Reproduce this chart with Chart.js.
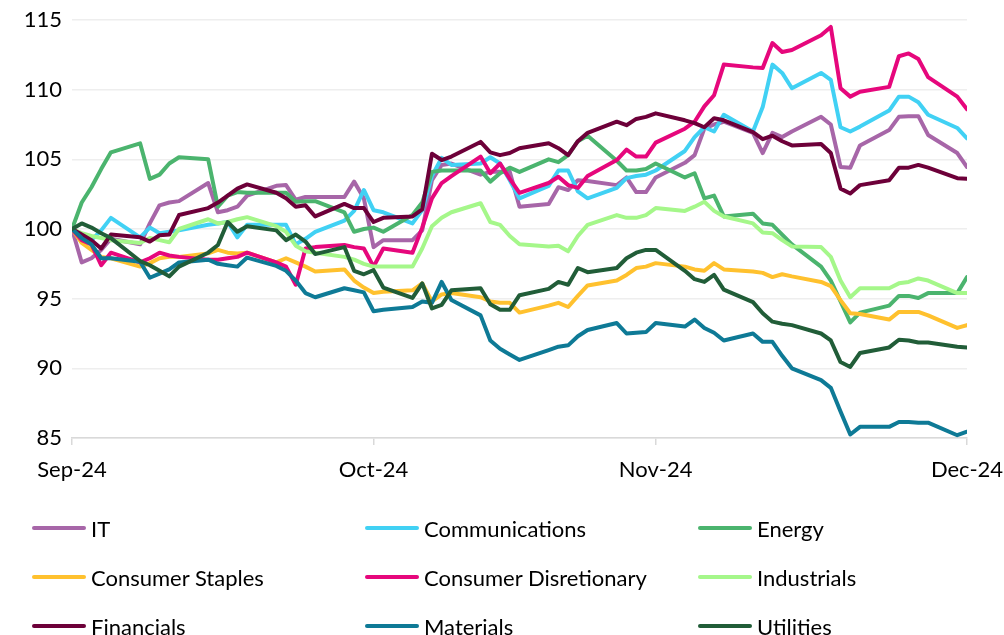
<!DOCTYPE html>
<html>
<head>
<meta charset="utf-8">
<title>Sector performance</title>
<script src="https://cdn.jsdelivr.net/npm/chart.js@4.4.1/dist/chart.umd.min.js"></script>
<style>
  body { margin: 0; background: #fff; }
  #wrap { position: relative; width: 1004px; height: 635px; font-family: Lato, sans-serif; }
  #legend { position: absolute; left: 0; top: 0; width: 1004px; height: 635px; pointer-events: none; }
  .item { position: absolute; height: 30px; display: flex; align-items: center; font-size: 22px; color: #000; white-space: nowrap; }
  .swatch { width: 54px; height: 4px; border-radius: 2px; margin-right: 5px; }
</style>
</head>
<body>
<div id="wrap">
  <canvas id="chart" width="1004" height="635"></canvas>
  <div id="legend"></div>
</div>
<script>
// DATA //

const dates = [
  '2024-09-02', '2024-09-03', '2024-09-04', '2024-09-05', '2024-09-06',
  '2024-09-09', '2024-09-10', '2024-09-11', '2024-09-12', '2024-09-13',
  '2024-09-16', '2024-09-17', '2024-09-18', '2024-09-19', '2024-09-20',
  '2024-09-23', '2024-09-24', '2024-09-25', '2024-09-26', '2024-09-27',
  '2024-09-30', '2024-10-01', '2024-10-02', '2024-10-03', '2024-10-04',
  '2024-10-07', '2024-10-08', '2024-10-09', '2024-10-10', '2024-10-11',
  '2024-10-14', '2024-10-15', '2024-10-16', '2024-10-17', '2024-10-18',
  '2024-10-21', '2024-10-22', '2024-10-23', '2024-10-24', '2024-10-25',
  '2024-10-28', '2024-10-29', '2024-10-30', '2024-10-31', '2024-11-01',
  '2024-11-04', '2024-11-05', '2024-11-06', '2024-11-07', '2024-11-08',
  '2024-11-11', '2024-11-12', '2024-11-13', '2024-11-14', '2024-11-15',
  '2024-11-18', '2024-11-19', '2024-11-20', '2024-11-21', '2024-11-22',
  '2024-11-25', '2024-11-26', '2024-11-27', '2024-11-28', '2024-11-29',
  '2024-12-02', '2024-12-03'
];

const it = [
  100, 97.6, 97.9, 98.5, 99.3,  98.9, 100.4, 101.7, 101.9, 102.0,
  103.3, 101.2, 101.35, 101.6, 102.4,  103.1, 103.15, 102.1, 102.3, 102.3,
  102.3, 103.4, 102.2, 98.7, 99.2,  99.2, 99.9, 103.5, 104.6, 104.7,
  103.9, 104.1, 104.1, 104.1, 101.6,  101.8, 103.0, 102.8, 103.5, 103.45,
  103.15, 103.7, 102.65, 102.65, 103.7,  104.75, 105.3, 107.2, 107.5, 107.7,
  106.9, 105.45, 106.9, 106.6, 107.0,  108.05, 107.5, 104.45, 104.4, 106.0,
  107.1, 108.05, 108.1, 108.1, 106.75,  105.45, 104.45
];

const communications = [
  100, 99.3, 99.2, 99.9, 100.8,  99.4, 100.1, 99.7, 99.8, 99.9,
  100.3, 100.4, 100.5, 99.4, 100.3,  100.3, 100.3, 98.9, 99.3, 99.8,
  100.6, 101.3, 102.8, 101.35, 101.2,  100.4, 101.35, 103.8, 105.1, 104.6,
  104.7, 105.15, 104.7, 103.5, 102.2,  103.1, 104.2, 104.2, 102.7, 102.2,
  102.95, 103.65, 103.8, 103.9, 104.2,  105.6, 106.6, 107.3, 107.0, 108.2,
  107.0, 108.75, 111.8, 111.2, 110.1,  111.2, 110.7, 107.3, 107.0, 107.35,
  108.5, 109.5, 109.5, 109.1, 108.2,  107.25, 106.5
];

const energy = [
  100, 101.9, 103.0, 104.3, 105.5,  106.15, 103.6, 103.9, 104.7, 105.15,
  105.0, 101.6, 102.4, 102.65, 102.6,  102.6, 102.6, 101.95, 102.0, 102.0,
  101.2, 99.8, 100.0, 100.1, 99.8,  101.0, 101.9, 104.1, 104.2, 104.2,
  104.2, 103.4, 104.0, 104.4, 104.1,  105.0, 104.8, 105.3, 106.3, 106.7,
  104.9, 104.2, 104.2, 104.3, 104.7,  103.7, 104.0, 102.2, 102.4, 100.9,
  101.1, 100.4, 100.3, 99.6, 98.9,  97.3, 96.3, 94.8, 93.3, 94.0,
  94.5, 95.2, 95.2, 95.05, 95.4,  95.4, 96.55
];

const consumerStaples = [
  100, 99.0, 98.5, 98.0, 97.9,  97.3, 97.55, 97.9, 98.0, 98.0,
  98.25, 98.5, 98.3, 98.25, 98.3,  97.6, 97.9, 97.6, 97.3, 96.95,
  97.1, 96.3, 95.8, 95.4, 95.5,  95.6, 96.1, 94.8, 95.3, 95.4,
  95.1, 94.8, 94.7, 94.7, 94.0,  94.5, 94.7, 94.4, 95.2, 95.95,
  96.3, 96.7, 97.2, 97.3, 97.55,  97.3, 97.1, 97.0, 97.55, 97.1,
  96.95, 96.85, 96.55, 96.75, 96.6,  96.2, 95.9, 94.9, 93.95, 93.9,
  93.5, 94.05, 94.05, 94.05, 93.8,  92.9, 93.1
];

const consumerDiscretionary = [
  100, 99.2, 98.9, 97.4, 98.3,  97.6, 97.9, 98.3, 98.1, 98.0,
  97.8, 97.8, 97.9, 98.0, 98.3,  97.6, 97.3, 96.0, 98.6, 98.7,
  98.85, 98.7, 98.6, 97.3, 98.6,  98.3, 100.1, 102.2, 103.3, 103.8,
  105.2, 104.0, 104.7, 103.6, 102.6,  103.3, 103.75, 103.15, 102.95, 103.8,
  104.95, 105.7, 105.2, 105.2, 106.2,  107.2, 107.7, 108.8, 109.6, 111.8,
  111.6, 111.55, 113.35, 112.7, 112.85,  113.9, 114.5, 110.1, 109.5, 109.85,
  110.2, 112.4, 112.6, 112.2, 110.9,  109.5, 108.6
];

const industrials = [
  100, 99.7, 99.5, 99.35, 99.2,  99.0, 99.35, 99.2, 99.05, 100.0,
  100.7, 100.4, 100.5, 100.7, 100.85,  100.2, 99.8, 98.8, 98.4, 98.3,
  98.0, 97.8, 97.5, 97.3, 97.3,  97.3, 98.6, 100.2, 100.8, 101.2,
  101.85, 100.5, 100.3, 99.5, 98.9,  98.75, 98.8, 98.4, 99.5, 100.3,
  101.0, 100.8, 100.8, 101.0, 101.5,  101.3, 101.6, 101.95, 101.3, 100.9,
  100.4, 99.75, 99.7, 99.2, 98.75,  98.7, 98.0, 96.3, 95.1, 95.75,
  95.75, 96.1, 96.2, 96.45, 96.3,  95.4, 95.4
];

const financials = [
  100, 99.6, 99.2, 98.6, 99.6,  99.4, 99.1, 99.55, 99.6, 101.0,
  101.5, 101.9, 102.4, 102.9, 103.2,  102.6, 102.2, 101.6, 101.7, 100.9,
  101.8, 101.5, 101.5, 100.5, 100.8,  100.9, 101.4, 105.4, 104.95, 105.2,
  106.25, 105.5, 105.3, 105.45, 105.8,  106.15, 105.8, 105.3, 106.3, 106.9,
  107.7, 107.45, 107.9, 108.05, 108.3,  107.8, 107.6, 107.3, 107.95, 107.8,
  106.95, 106.45, 106.7, 106.3, 106.0,  106.1, 105.45, 102.9, 102.55, 103.15,
  103.5, 104.4, 104.4, 104.6, 104.4,  103.65, 103.6
];

const materials = [
  100, 99.35, 98.9, 97.9, 97.9,  97.65, 96.5, 96.8, 97.1, 97.6,
  97.8, 97.5, 97.4, 97.3, 97.95,  97.35, 97.0, 96.3, 95.4, 95.1,
  95.75, 95.6, 95.45, 94.1, 94.2,  94.4, 94.8, 94.7, 96.2, 94.9,
  93.8, 92.0, 91.4, 91.0, 90.6,  91.3, 91.55, 91.65, 92.3, 92.75,
  93.25, 92.5, 92.55, 92.6, 93.25,  93.0, 93.5, 92.9, 92.55, 92.0,
  92.5, 91.9, 91.9, 90.9, 90.0,  89.15, 88.6, 86.9, 85.25, 85.8,
  85.8, 86.15, 86.15, 86.1, 86.1,  85.2, 85.45
];

const utilities = [
  100, 100.4, 100.1, 99.7, 99.35,  97.7, 97.4, 97.0, 96.6, 97.3,
  98.3, 98.85, 100.5, 99.8, 100.2,  99.9, 99.2, 99.6, 99.1, 98.2,
  98.7, 97.0, 96.75, 97.05, 95.8,  95.05, 96.1, 94.3, 94.55, 95.6,
  95.75, 94.6, 94.2, 94.2, 95.25,  95.7, 96.2, 96.0, 97.2, 96.9,
  97.2, 97.9, 98.3, 98.5, 98.5,  97.0, 96.4, 96.2, 96.7, 95.65,
  94.75, 93.95, 93.35, 93.2, 93.1,  92.5, 92.0, 90.45, 90.1, 91.1,
  91.5, 92.05, 92.0, 91.85, 91.85,  91.55, 91.5
];

const seriesNames = ['IT', 'Communications', 'Energy', 'Consumer Staples', 'Consumer Disretionary',
  'Industrials', 'Financials', 'Materials', 'Utilities'];
const seriesValues = [it, communications, energy, consumerStaples, consumerDiscretionary,
  industrials, financials, materials, utilities];
const seriesColors = ['#A766A8', '#41D1F4', '#4BB46E', '#FFC12E', '#E6077C',
  '#A5F78A', '#6D0039', '#0E7A96', '#215D38'];

const tickDates = ['2024-09-02', '2024-10-03', '2024-11-01', '2024-12-03'];
const tickLabels = ['Sep-24', 'Oct-24', 'Nov-24', 'Dec-24'];

// HELPERS //

const DAY = 24 * 60 * 60 * 1000;
const start = Date.parse(dates[0]);
const dayOf = d => Math.round((Date.parse(d) - start) / DAY);
const days = dates.map(dayOf);
const tickDays = tickDates.map(dayOf);

// CHART //

Chart.defaults.font.family = 'Lato, sans-serif';
Chart.defaults.color = '#000';

const datasets = seriesNames.map((name, i) => ({
  label: name,
  data: seriesValues[i].map((v, j) => ({ x: days[j], y: v })),
  borderColor: seriesColors[i],
  backgroundColor: seriesColors[i],
  order: seriesNames.length - i
}));

const chart = new Chart(document.getElementById('chart'), {
  type: 'line',
  data: { datasets: datasets },
  options: {
    responsive: false,
    animation: false,
    devicePixelRatio: 1,
    layout: { padding: { top: 20, right: 37, bottom: 0, left: 0 } },
    elements: {
      point: { radius: 0, hoverRadius: 0 },
      line: { borderWidth: 4, tension: 0, borderJoinStyle: 'round', borderCapStyle: 'round' }
    },
    plugins: {
      legend: { display: false },
      tooltip: { enabled: false }
    },
    scales: {
      x: {
        type: 'linear',
        min: 0,
        max: days[days.length - 1],
        afterFit: scale => {
          scale.height = 635 - 438;
          scale.paddingLeft = 0;
          scale.paddingRight = 0;
        },
        afterBuildTicks: scale => { scale.ticks = tickDays.map(v => ({ value: v })); },
        grid: { drawOnChartArea: false, drawTicks: true, tickLength: 7, color: '#D9D9D9', lineWidth: 1.5 },
        border: { display: true, color: '#D9D9D9', width: 1.5 },
        ticks: {
          autoSkip: false,
          maxRotation: 0,
          padding: 12,
          font: { size: 22 },
          callback: value => tickLabels[tickDays.indexOf(value)]
        }
      },
      y: {
        min: 85,
        max: 115,
        afterFit: scale => {
          scale.width = 72;
          scale.paddingTop = 0;
          scale.paddingBottom = 0;
        },
        grid: { color: '#EEEEEE', lineWidth: 1.5, drawTicks: false },
        border: { display: false },
        ticks: { stepSize: 5, padding: 10, font: { size: 22 } }
      }
    }
  }
});

// LEGEND //

const legendEl = document.getElementById('legend');
const colX = [32, 365, 698];
const rowY = [528, 577, 626];

chart.data.datasets.forEach((ds, i) => {
  const item = document.createElement('div');
  item.className = 'item';
  item.style.left = colX[i % 3] + 'px';
  item.style.top = (rowY[Math.floor(i / 3)] - 15) + 'px';
  const swatch = document.createElement('span');
  swatch.className = 'swatch';
  swatch.style.background = ds.borderColor;
  const text = document.createElement('span');
  text.textContent = ds.label;
  item.appendChild(swatch);
  item.appendChild(text);
  legendEl.appendChild(item);
});
</script>
</body>
</html>
